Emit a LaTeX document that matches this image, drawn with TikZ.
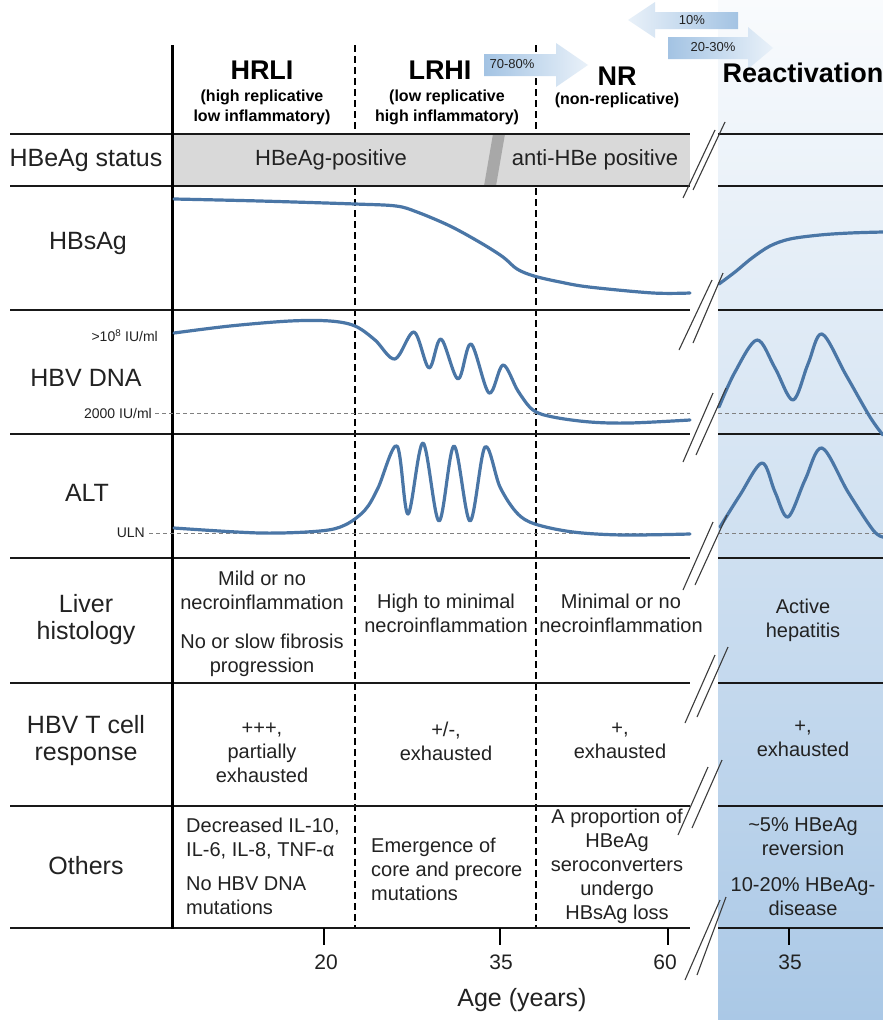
\documentclass[tikz,border=0pt]{standalone}
\usepackage{fontspec}
\setmainfont{Liberation Sans}
\definecolor{txt}{HTML}{222222}
\definecolor{crvc}{HTML}{4A76A6}
\definecolor{boxgray}{HTML}{D9D9D9}
\definecolor{bandgray}{HTML}{A8A8A8}
\definecolor{refdash}{HTML}{808080}
\definecolor{brkc}{HTML}{3C3C3C}
\definecolor{pTop}{HTML}{F9FBFD}
\definecolor{pMid}{HTML}{D4E3F1}
\definecolor{pBot}{HTML}{AAC8E6}
\definecolor{arrB}{HTML}{A3C3E3}
\definecolor{arrL}{HTML}{E9F1F9}
\begin{document}
\begin{tikzpicture}[x=1pt,y=-1pt,
  hline/.style={line width=2.6pt, black!90},
  vdash/.style={line width=2pt, dash pattern=on 7pt off 4pt},
  refd/.style={refdash, line width=1pt, dash pattern=on 4pt off 3pt},
  crv/.style={crvc, line width=3.2pt, line cap=round, line join=round},
  brkl/.style={brkc, line width=1.1pt},
  tickl/.style={line width=1.6pt},
  lab/.style={text=txt, align=center, font=\fontsize{25}{27}\selectfont, inner sep=0pt},
  cell/.style={text=txt, align=center, font=\fontsize{20}{24}\selectfont, inner sep=0pt},
  hdr/.style={text=black, font=\bfseries\fontsize{27}{30}\selectfont, inner sep=0pt},
  subh/.style={text=black, align=center, font=\bfseries\fontsize{16}{20}\selectfont, inner sep=0pt},
  small/.style={text=txt, font=\fontsize{14}{16}\selectfont, inner sep=0pt},
  pct/.style={text=txt, font=\fontsize{13}{15}\selectfont, inner sep=0pt},
  axisl/.style={text=txt, font=\fontsize{21}{24}\selectfont, inner sep=0pt},
  arrR/.style={left color=arrB, right color=arrL},
  arrLft/.style={left color=arrL, right color=arrB}
]
\useasboundingbox (0,0) rectangle (883,1020);
\fill[white] (0,0) rectangle (883,1020);
% reactivation panel
\shade[top color=pTop, middle color=pMid, bottom color=pBot] (718,0) rectangle (883,1020);

% dashed column separators
\draw[vdash] (355,45) -- (355,928);
\draw[vdash] (536,45) -- (536,928);

% HBeAg status bar
\fill[boxgray] (172,134) rectangle (690,186);
\fill[bandgray] (493,134) -- (505,134) -- (496,186) -- (484,186) -- cycle;

% horizontal row lines
\foreach \yy in {134,186,310,434,558,683,806,928} {
  \draw[hline] (10,\yy) -- (690,\yy);
  \draw[hline] (718,\yy) -- (883,\yy);
}
% thick vertical axis
\draw[line width=3pt] (172,45) -- (172,929.3);

% reference dashed lines
\draw[refd] (155,413) -- (690,413);
\draw[refd] (718,413) -- (883,413);
\draw[refd] (149,533) -- (690,533);
\draw[refd] (718,533) -- (883,533);

% curves: HBsAg
\draw[crv] plot[smooth, tension=0.55] coordinates {(174,199) (260,201) (355,204) (396,206) (417,212) (450,226) (481,243) (503,257) (517,269) (534,276) (560,282) (589,287) (653,293) (690,293)};
\draw[crv] plot[smooth, tension=0.55] coordinates {(719,284) (735,272) (752,258) (770,246) (790,239) (820,235) (850,233) (883,232)};
% HBV DNA
\draw[crv] plot[smooth, tension=0.55] coordinates {(174,333) (230,326) (290,321) (330,321) (355,326) (375,340) (395,359) (414,332) (429,368) (441,339) (458,379) (471,344) (489,393) (503,365) (518,391) (533,410) (553,417) (590,422) (630,423) (690,420)};
\draw[crv] plot[smooth, tension=0.55] coordinates {(719,407) (735,372) (757,340) (775,368) (793,400) (808,364) (822,334) (846,375) (870,417) (883,435)};
% ALT
\draw[crv] plot[smooth, tension=0.55] coordinates {(174,528) (260,533) (320,531) (345,525) (365,510) (378,488) (397,446) (408,514) (423,443) (439,521) (454,446) (470,521) (485,447) (500,487) (517,513) (535,524) (573,532) (623,535) (690,534)};
\draw[crv] plot[smooth, tension=0.55] coordinates {(720,527) (740,495) (762,463) (775,492) (788,517) (805,480) (822,448) (848,492) (873,530) (883,537)};

% break marks
\foreach \ax/\ay/\bx/\by/\cx/\cy/\dx/\dy in {
  683/198/715/130/693/190/725/122,
  679/350/712/280/693/343/723/273,
  683/462/713/393/696/455/726/388,
  683/590/713/522/695/585/727/515,
  685/723/715/655/697/717/728/647,
  678/835/708/767/692/828/722/760,
  685/980/720/900/697/975/726/897} {
  \draw[brkl] (\ax,\ay) -- (\bx,\by);
  \draw[brkl] (\cx,\cy) -- (\dx,\dy);
}

% transition arrows
\path[arrR] (484,54) -- (556,54) -- (556,43) -- (588,65) -- (556,87) -- (556,76) -- (484,76) -- cycle;
\node[pct] (p7080) at (512,64) {70-80\%};
\path[arrLft] (628,20) -- (655,2) -- (655,12) -- (738,12) -- (738,29) -- (655,29) -- (655,38) -- cycle;
\node[pct] (p10) at (692,20) {10\%};
\path[arrR] (668,37) -- (748,37) -- (748,27) -- (773,48) -- (748,69) -- (748,59) -- (668,59) -- cycle;
\node[pct] (p2030) at (713,47) {20-30\%};

% column headers
\node[hdr] (hHRLI) at (262,70) {HRLI};
\node[subh] (sHRLI) at (262,107) {(high replicative\\low inflammatory)};
\node[hdr] (hLRHI) at (440,70) {LRHI};
\node[subh] (sLRHI) at (447,107) {(low replicative\\high inflammatory)};
\node[hdr] (hNR) at (617,76) {NR};
\node[subh] (sNR) at (617,100) {(non-replicative)};
\node[hdr] (hReact) at (803,73) {Reactivation};

% row labels
\node[lab] (lHBeAg) at (86,160) {HBeAg status};
\node[lab] (lHBsAg) at (88,243) {HBsAg};
\node[lab] (lDNA) at (86,378) {HBV DNA};
\node[lab] (lALT) at (87,493) {ALT};
\node[lab] (lLiver) at (86,620) {Liver\\histology};
\node[lab] (lTcell) at (86,741) {HBV T cell\\response};
\node[lab] (lOthers) at (86,866) {Others};
\node[small, anchor=east] (l108) at (158,336) {>10\textsuperscript{8} IU/ml};
\node[small, anchor=east] (l2000) at (152,413) {2000 IU/ml};
\node[small, anchor=east] (lULN) at (145,533) {ULN};

% HBeAg status texts
\node[cell, font=\fontsize{22}{26}\selectfont] (tPos) at (331,160) {HBeAg-positive};
\node[cell, font=\fontsize{22}{26}\selectfont] (tAnti) at (595,160) {anti-HBe positive};

% liver histology
\node[cell] (liv1) at (262,624) {Mild or no\\necroinflammation\\[15pt]No or slow fibrosis\\progression};
\node[cell] (liv2) at (446,613) {High to minimal\\necroinflammation};
\node[cell] (liv3) at (621,613) {Minimal or no\\necroinflammation};
\node[cell] (liv4) at (803,620) {Active\\hepatitis};

% T cell response
\node[cell] (tc1) at (262,753) {+++,\\partially\\exhausted};
\node[cell] (tc2) at (446,741) {+/-,\\exhausted};
\node[cell] (tc3) at (620,741) {+,\\exhausted};
\node[cell] (tc4) at (803,739) {+,\\exhausted};

% others
\node[cell, align=left, anchor=west] (ot1) at (186,866) {Decreased IL-10,\\IL-6, IL-8, TNF-α\\[10pt]No HBV DNA\\mutations};
\node[cell, align=left, anchor=west] (ot2) at (371,869) {Emergence of\\core and precore\\mutations};
\node[cell] (ot3) at (617,866) {A proportion of\\HBeAg\\seroconverters\\undergo\\HBsAg loss};
\node[cell] (ot4) at (803,867) {\textasciitilde5\% HBeAg\\reversion\\[12pt]10-20\% HBeAg-\\disease};

% age axis
\draw[tickl] (324,928) -- (324,945);
\draw[tickl] (500,928) -- (500,945);
\draw[tickl] (668,928) -- (668,945);
\draw[tickl] (789,928) -- (789,945);
\node[axisl] (a20) at (326,962) {20};
\node[axisl] (a35) at (501,962) {35};
\node[axisl] (a60) at (665,962) {60};
\node[axisl] (a35r) at (790,962) {35};
\node[lab] (aAge) at (522,1000) {Age (years)};
\end{tikzpicture}
\end{document}
